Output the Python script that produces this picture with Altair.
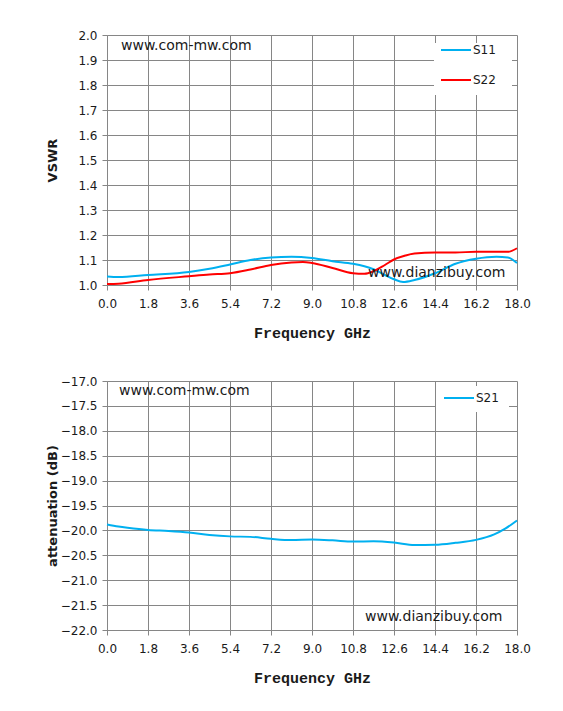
import altair as alt
import pandas as pd

# ---------------- data ----------------
s11_freq = [0.0, 0.5, 1.8, 3.6, 4.5, 5.4, 6.3, 7.2, 8.1, 9.0, 9.9, 10.8, 11.3, 11.7, 12.2, 12.6, 13.0, 13.5, 14.4, 15.3, 16.2, 17.1, 17.6, 18.0]
s11_vswr = [1.034, 1.032, 1.040, 1.052, 1.065, 1.082, 1.100, 1.110, 1.113, 1.108, 1.095, 1.085, 1.075, 1.063, 1.040, 1.023, 1.012, 1.020, 1.047, 1.085, 1.105, 1.113, 1.110, 1.088]

s22_freq = [0.0, 0.5, 1.8, 3.6, 4.5, 5.4, 6.3, 7.2, 8.1, 8.6, 9.0, 9.9, 10.8, 11.3, 11.7, 12.2, 12.6, 13.1, 13.5, 14.4, 15.3, 16.2, 17.1, 17.6, 18.0]
s22_vswr = [1.004, 1.005, 1.020, 1.035, 1.042, 1.047, 1.062, 1.080, 1.090, 1.092, 1.088, 1.068, 1.047, 1.045, 1.055, 1.080, 1.102, 1.118, 1.126, 1.130, 1.130, 1.133, 1.133, 1.133, 1.147]

s21_freq = [0.0, 0.5, 0.9, 1.8, 2.7, 3.6, 4.5, 5.4, 6.3, 7.2, 8.1, 9.0, 9.9, 10.8, 11.7, 12.6, 13.5, 14.4, 15.3, 16.2, 17.0, 17.5, 18.0]
s21_db = [-19.88, -19.92, -19.945, -19.99, -20.01, -20.04, -20.09, -20.12, -20.13, -20.17, -20.195, -20.185, -20.20, -20.225, -20.22, -20.245, -20.295, -20.29, -20.25, -20.19, -20.08, -19.96, -19.80]

x_ticks = [0.0, 1.8, 3.6, 5.4, 7.2, 9.0, 10.8, 12.6, 14.4, 16.2, 18.0]
vswr_ticks = [1.0, 1.1, 1.2, 1.3, 1.4, 1.5, 1.6, 1.7, 1.8, 1.9, 2.0]
att_ticks = [-22.0, -21.5, -21.0, -20.5, -20.0, -19.5, -19.0, -18.5, -18.0, -17.5, -17.0]

series_top = ["S11", "S22"]
series_bot = ["S21"]
colors = {"S11": "#00b0f0", "S22": "#ff0000", "S21": "#00b0f0"}

site1 = "www.com-mw.com"
site2 = "www.dianzibuy.com"

# ---------------- tables ----------------
top_df = pd.concat([
    pd.DataFrame({"f": s11_freq, "v": s11_vswr, "s": "S11"}),
    pd.DataFrame({"f": s22_freq, "v": s22_vswr, "s": "S22"}),
])
bot_df = pd.DataFrame({"f": s21_freq, "v": s21_db, "s": "S21"})
one = pd.DataFrame({"a": [0]})

W = 410
GRID = "#868686"
TXT = "#1a1a1a"

def xaxis():
    return alt.Axis(values=x_ticks, format=".1f", title="Frequency GHz",
                    titleFont="Liberation Mono", titleFontWeight="bold", titleFontSize=15,
                    titlePadding=16, labelPadding=8, tickSize=5,
                    labelFlush=False, labelOverlap=False,
                    labelFont="DejaVu Sans", labelFontSize=12, labelColor=TXT, titleColor=TXT,
                    gridColor=GRID, domainColor=GRID, tickColor=GRID, gridOpacity=1)

def yaxis(title, ticks):
    return alt.Axis(values=ticks, format=".1f", title=title,
                    titleFont="DejaVu Sans", titleFontWeight="bold", titleFontSize=13,
                    titleX=-48, labelPadding=5, tickSize=5,
                    labelFlush=False, labelOverlap=False,
                    labelFont="DejaVu Sans", labelFontSize=12, labelColor=TXT, titleColor=TXT,
                    gridColor=GRID, domainColor=GRID, tickColor=GRID, gridOpacity=1)

def legend_layers(names, box, ys, x0):
    layers = [alt.Chart(one).mark_rect(color="white").encode(
        x=alt.value(box[0]), x2=alt.value(box[1]), y=alt.value(box[2]), y2=alt.value(box[3]))]
    for name, yy in zip(names, ys):
        layers.append(alt.Chart(one).mark_rule(color=colors[name], strokeWidth=2).encode(
            x=alt.value(x0), x2=alt.value(x0 + 30), y=alt.value(yy)))
        layers.append(alt.Chart(one).mark_text(text=name, align="left", baseline="middle",
                                               font="DejaVu Sans", fontSize=12, color=TXT).encode(
            x=alt.value(x0 + 32), y=alt.value(yy)))
    return layers

def site_text(txt, x, y):
    return alt.Chart(one).mark_text(text=txt, align="left", baseline="middle",
                                    font="DejaVu Sans", fontSize=14, color=TXT).encode(
        x=alt.value(x), y=alt.value(y))

# ---------------- top chart ----------------
top_lines = alt.Chart(top_df).mark_line(strokeWidth=2, interpolate="monotone").encode(
    x=alt.X("f:Q", scale=alt.Scale(domain=[0, 18], nice=False), axis=xaxis()),
    y=alt.Y("v:Q", scale=alt.Scale(domain=[1.0, 2.0], nice=False), axis=yaxis("VSWR", vswr_ticks)),
    color=alt.Color("s:N", scale=alt.Scale(domain=series_top, range=[colors[s] for s in series_top]), legend=None),
    detail="s:N",
)
top = alt.layer(
    top_lines,
    site_text(site1, 14, 11),
    site_text(site2, 261, 238),
    *legend_layers(series_top, (327, 405, 8, 60), [15, 45], 334),
).properties(width=W, height=250)

# ---------------- bottom chart ----------------
bot_lines = alt.Chart(bot_df).mark_line(strokeWidth=2, interpolate="monotone").encode(
    x=alt.X("f:Q", scale=alt.Scale(domain=[0, 18], nice=False), axis=xaxis()),
    y=alt.Y("v:Q", scale=alt.Scale(domain=[-22.0, -17.0], nice=False), axis=yaxis("attenuation (dB)", att_ticks)),
    color=alt.Color("s:N", scale=alt.Scale(domain=series_bot, range=[colors[s] for s in series_bot]), legend=None),
)
bot = alt.layer(
    bot_lines,
    site_text(site1, 12, 10),
    site_text(site2, 258, 236),
    *legend_layers(series_bot, (329, 402, 5, 31), [17], 337),
).properties(width=W, height=249)

chart = alt.vconcat(top, bot, spacing=35).properties(
    padding={"left": 38, "top": 21, "right": 5, "bottom": 5},
    background="white",
).configure_view(stroke=None)

chart.save("out.html", embed_options={"renderer": "svg", "actions": False})
